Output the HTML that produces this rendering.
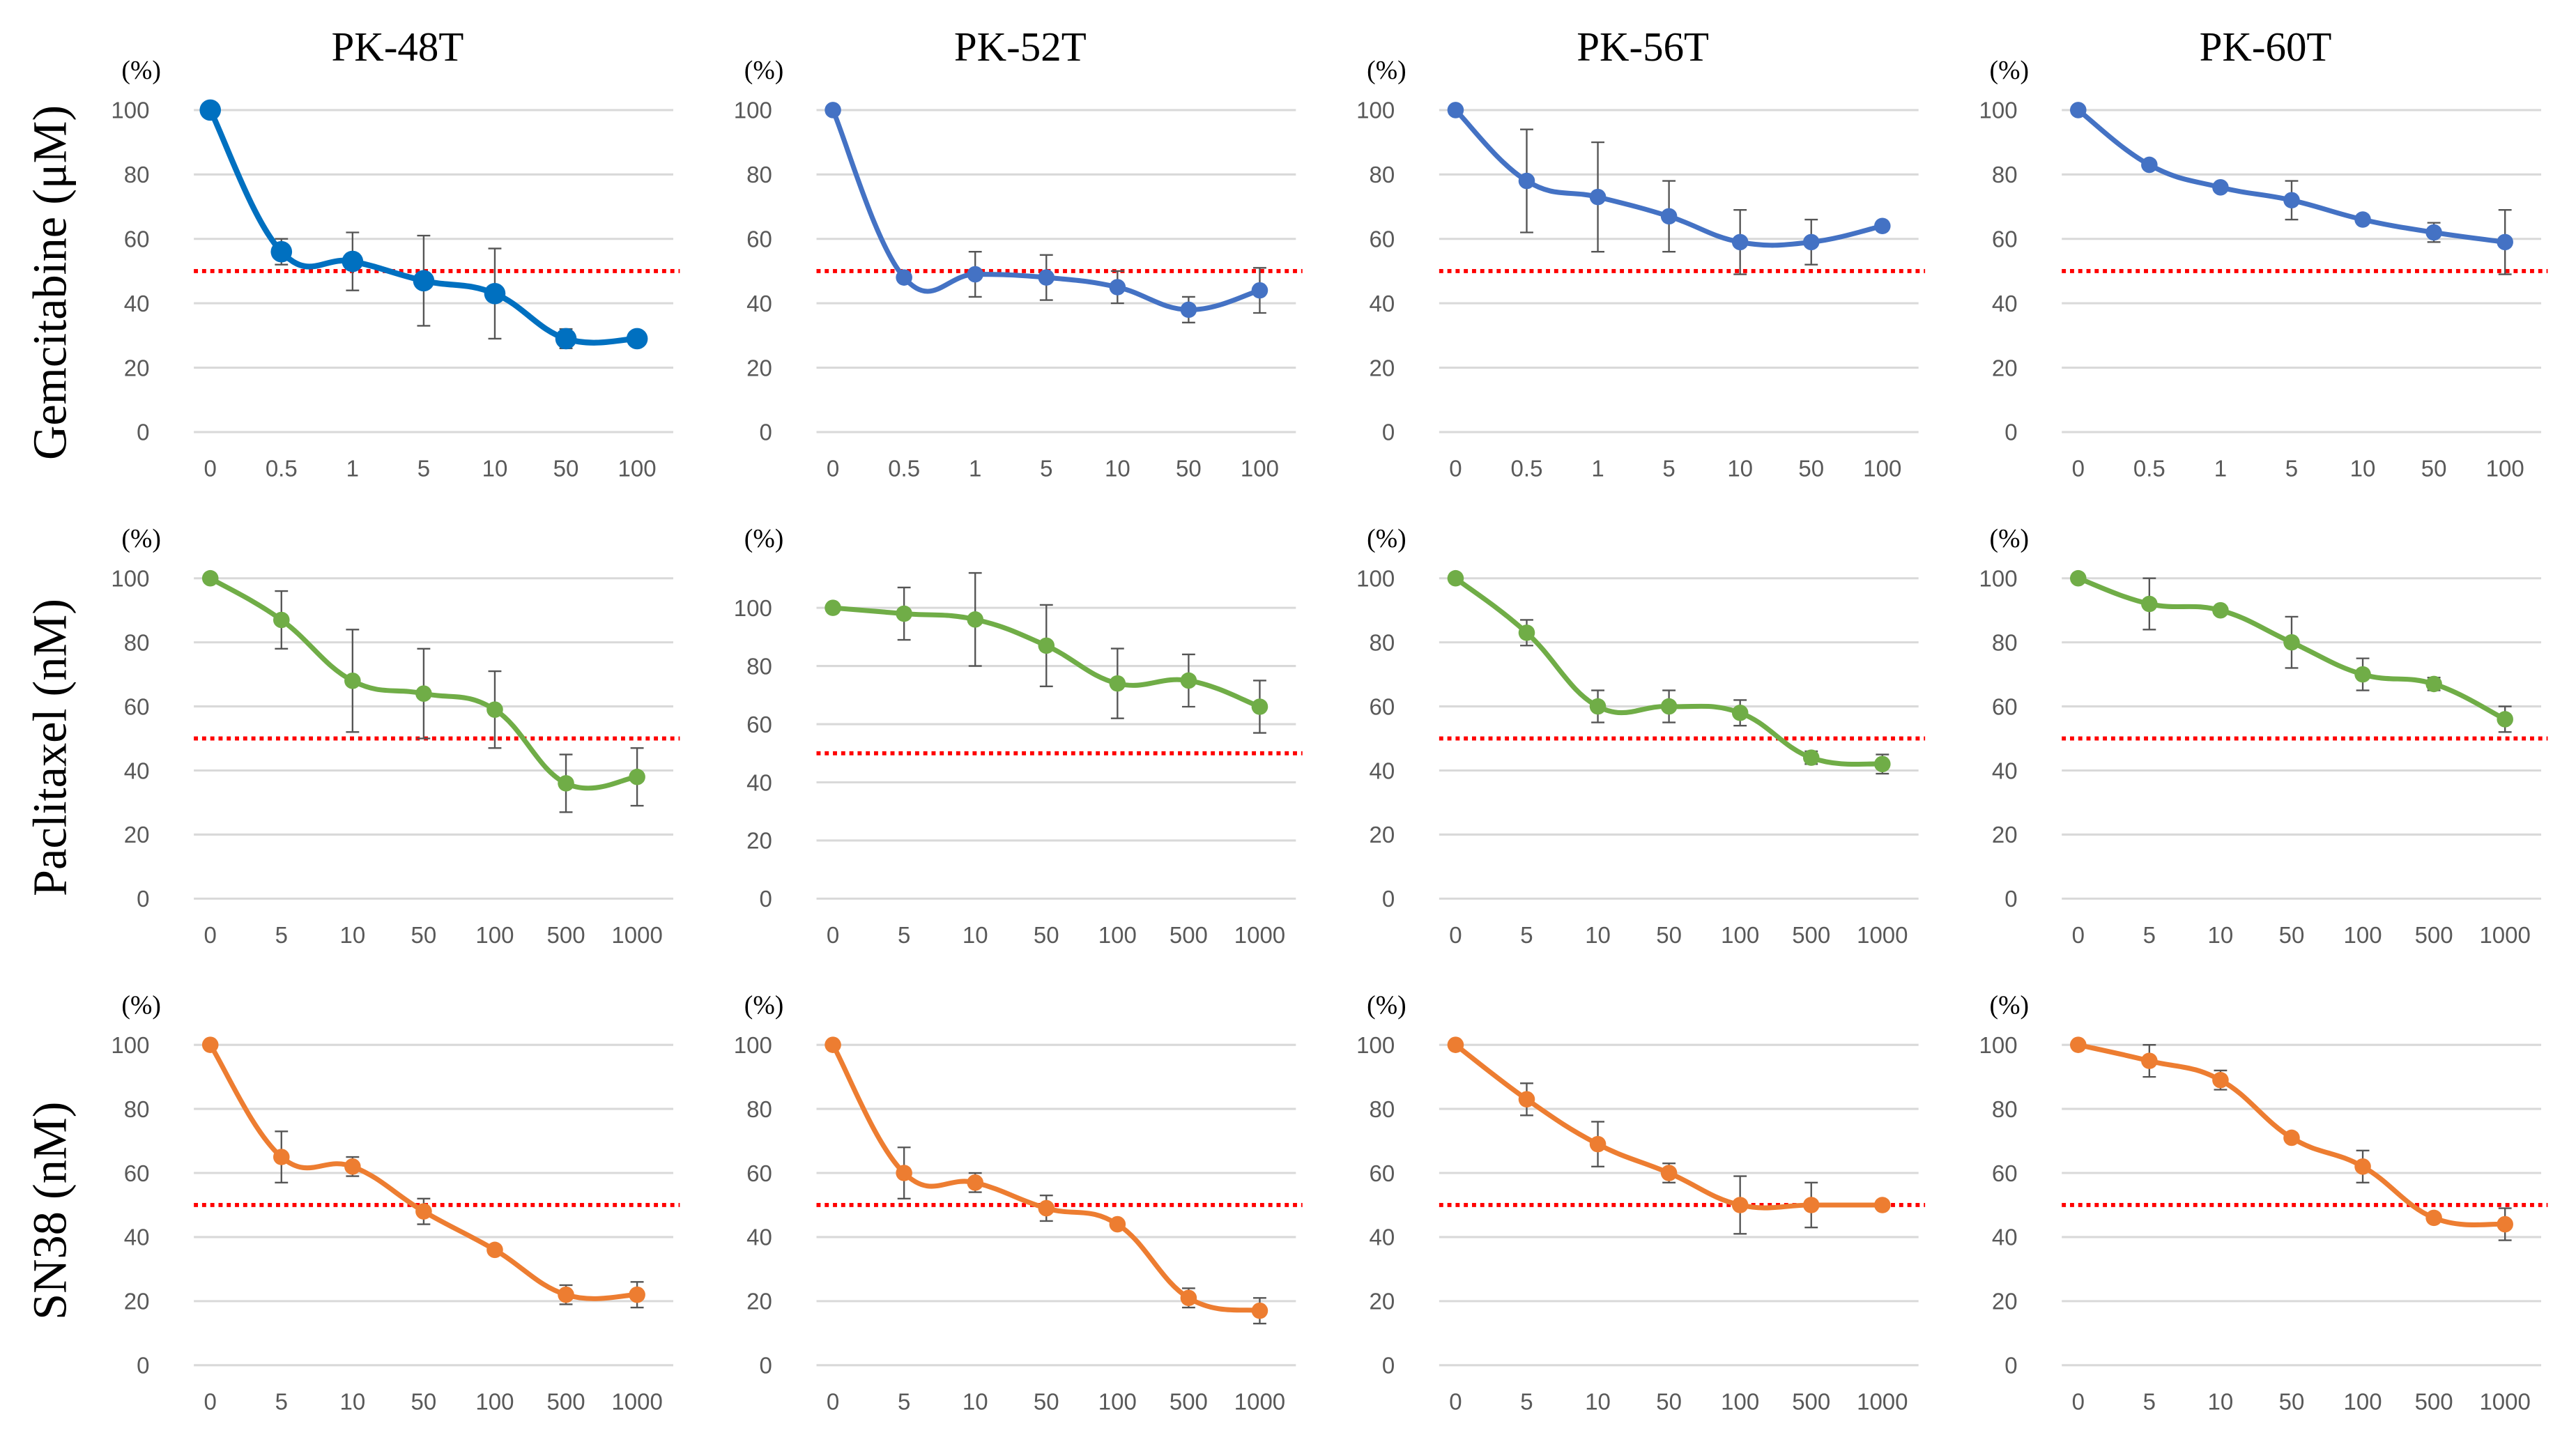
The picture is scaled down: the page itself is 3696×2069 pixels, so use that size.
<!DOCTYPE html>
<html><head><meta charset="utf-8"><style>
html,body{margin:0;padding:0;background:#fff;}
svg{display:block;}
</style></head><body>
<svg id="fig" width="3696" height="2069" viewBox="0 0 1568 877.75" preserveAspectRatio="none" xmlns="http://www.w3.org/2000/svg"></svg>
<script>
const cellLines = ["PK-48T","PK-52T","PK-56T","PK-60T"];
const drugs = ["Gemcitabine (\u03bcM)","Paclitaxel (nM)","SN38 (nM)"];
const doseLabelsGem = ["0","0.5","1","5","10","50","100"];
const doseLabelsNM = ["0","5","10","50","100","500","1000"];
const yTicks = [0,20,40,60,80,100];
// viability values [row][col]
const gemMeans = [[100,56,53,47,43,29,29],[100,48,49,48,45,38,44],[100,78,73,67,59,59,64],[100,83,76,72,66,62,59]];
const gemErrs  = [[0,4,9,14,14,3,0],[0,0,7,7,5,4,7],[0,16,17,11,10,7,0],[0,0,0,6,0,3,10]];
const ptxMeans = [[100,87,68,64,59,36,38],[100,98,96,87,74,75,66],[100,83,60,60,58,44,42],[100,92,90,80,70,67,56]];
const ptxErrs  = [[0,9,16,14,12,9,9],[0,9,16,14,12,9,9],[0,4,5,5,4,2,3],[0,8,0,8,5,2,4]];
const snMeans  = [[100,65,62,48,36,22,22],[100,60,57,49,44,21,17],[100,83,69,60,50,50,50],[100,95,89,71,62,46,44]];
const snErrs   = [[0,8,3,4,0,3,4],[0,8,3,4,0,3,4],[0,5,7,3,9,7,0],[0,5,3,0,5,0,5]];
const threshold = 50;

const svg = document.getElementById('fig');
const NS = "http://www.w3.org/2000/svg";
function mk(tag, attrs, parent){const e=document.createElementNS(NS,tag);for(const k in attrs)e.setAttribute(k,attrs[k]);(parent||svg).appendChild(e);return e;}

const rowMeans=[gemMeans,ptxMeans,snMeans], rowErrs=[gemErrs,ptxErrs,snErrs];
const rowLabels=[doseLabelsGem,doseLabelsNM,doseLabelsNM];
const colors=[["#0070C0","#4472C4","#4472C4","#4472C4"],["#70AD47","#70AD47","#70AD47","#70AD47"],["#ED7D31","#ED7D31","#ED7D31","#ED7D31"]];
const rowY100=[67,352,636], rowY0=[263,547,831];
const rowTitleY=[172,455,737];

cellLines.forEach((t,c)=>{
  const e=mk('text',{x:242+c*379,y:37,'font-family':'Liberation Serif, serif','font-size':25,'text-anchor':'middle',fill:'#000'});
  
  
  e.textContent=t;
});
drugs.forEach((d,r)=>{
  const e=mk('text',{x:0,y:0,transform:`translate(40,${rowTitleY[r]}) rotate(-90)`,'font-family':'Liberation Serif, serif','font-size':29,'text-anchor':'middle',fill:'#000'});
  
  
  e.textContent=d;
});

for(let r=0;r<3;r++)for(let c=0;c<4;c++){
  const g=mk('g',{});
  
  
  const y100=(r===1&&c===1)?370:rowY100[r], y0=rowY0[r];
  const Y=v=>y0-(y0-y100)*v/100;
  const x0=128+c*379, dx=43.3;
  const X=i=>x0+i*dx;
  const gl=x0-10, gr=X(6)+22;
  yTicks.forEach(v=>{
    const l=mk('line',{x1:gl,x2:gr,y1:Y(v),y2:Y(v),stroke:'#d9d9d9','stroke-width':1.3},g);
    
    
    const tx=mk('text',{x:x0-37,y:Y(v)+5,'font-family':'Liberation Sans, sans-serif','font-size':14,'text-anchor':'end',fill:'#595959'},g);
    
    
    tx.textContent=v;
  });
  const pc=mk('text',{x:x0-42,y:rowY100[r]-19,'font-family':'Liberation Serif, serif','font-size':16,'text-anchor':'middle',fill:'#000'},g);
  
  
  pc.textContent='(%)';
  rowLabels[r].forEach((lab,i)=>{
    const tx=mk('text',{x:X(i),y:y0+27,'font-family':'Liberation Sans, sans-serif','font-size':14,'text-anchor':'middle',fill:'#595959'},g);
    
    
    tx.textContent=lab;
  });
  const ref=mk('line',{x1:gl,x2:gr+4,y1:Y(threshold),y2:Y(threshold),stroke:'#ff0000','stroke-width':2.5,'stroke-dasharray':'2.5 2.5'},g);
  
  
  const m=rowMeans[r][c], er=rowErrs[r][c];
  const col=colors[r][c];
  m.forEach((v,i)=>{ if(er[i]>0){
    const eb=mk('path',{d:`M${X(i)},${Y(v-er[i])}V${Y(v+er[i])}M${X(i)-4},${Y(v-er[i])}h8M${X(i)-4},${Y(v+er[i])}h8`,stroke:'#555',fill:'none','stroke-width':1},g);
    
    
  }});
  const pts=m.map((v,i)=>[X(i),Y(v)]);
  let d=`M${pts[0][0]},${pts[0][1]}`;
  for(let i=0;i<pts.length-1;i++){
    const p0=pts[Math.max(0,i-1)],p1=pts[i],p2=pts[i+1],p3=pts[Math.min(pts.length-1,i+2)];
    const k=0.2;
    d+=`C${p1[0]+(p2[0]-p0[0])*k},${p1[1]+(p2[1]-p0[1])*k} ${p2[0]-(p3[0]-p1[0])*k},${p2[1]-(p3[1]-p1[1])*k} ${p2[0]},${p2[1]}`;
  }
  const ln=mk('path',{d:d,stroke:col,fill:'none','stroke-width':(r===0&&c===0)?3.5:3},g);
  
  
  pts.forEach(p=>{
    const pt=mk('circle',{cx:p[0],cy:p[1],r:(r===0&&c===0)?6.5:5,fill:col},g);
    
    
  });
}
</script>
</body></html>
